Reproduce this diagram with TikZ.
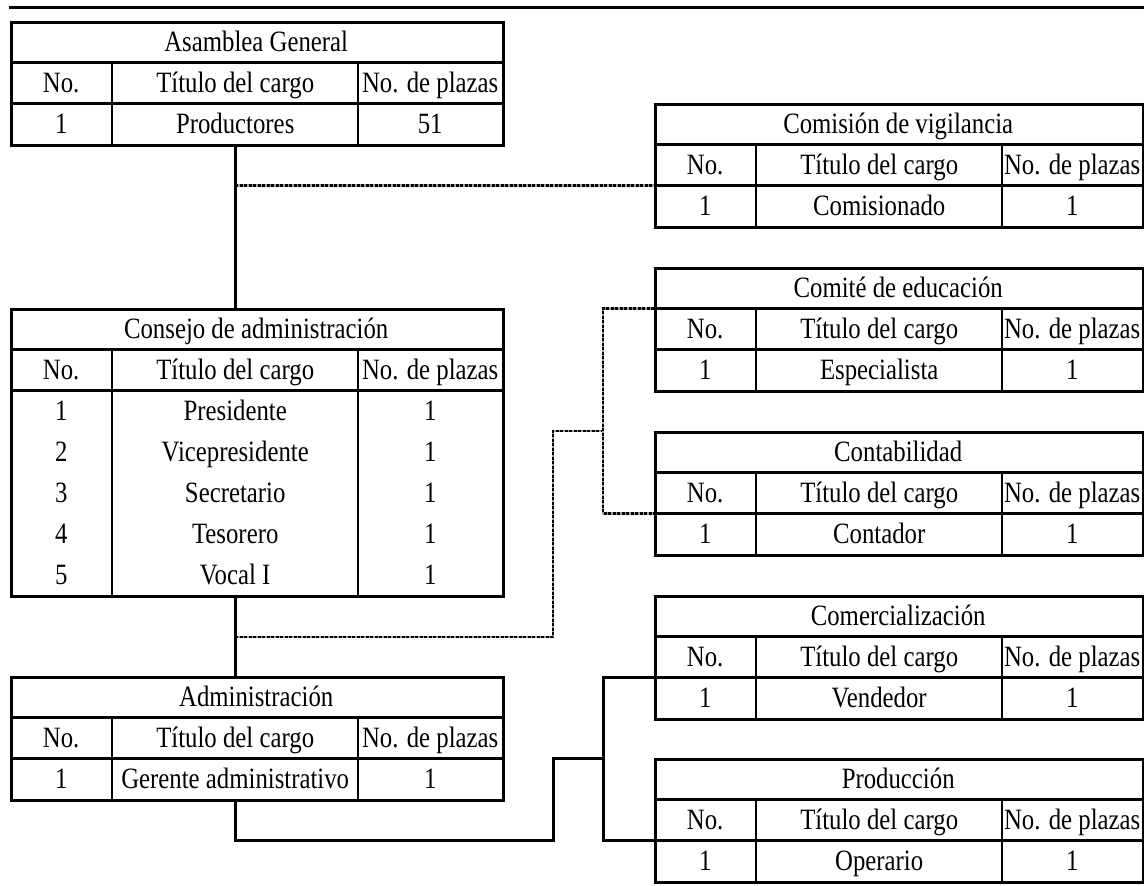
\documentclass[tikz,border=0pt]{standalone}
\usepackage{fontspec}
\setmainfont{Liberation Serif}[FakeStretch=0.84]
\usetikzlibrary{calc}

\tikzset{
  tframe/.style={draw, line width=3pt, inner sep=0pt},
  grid/.style={line width=2.6pt},
  cell/.style={inner sep=0pt, minimum height=41pt, text height=19.4pt,
    text depth=0pt, font=\fontsize{29.5}{34}\selectfont},
  conn/.style={line width=3pt},
  dconn/.style={line width=2.8pt, dash pattern=on 3pt off 1.5pt,
    preaction={draw=gray!75, solid, line width=2.8pt}},
}

% #1 name, #2 left x, #3 right x, #4 top y, #5 title,
% #6 number of data rows, #7 rows as number/cargo/plazas
\newcommand\orgtab[7]{%
  \pgfmathsetmacro\otCa{#2+102}%
  \pgfmathsetmacro\otCb{#2+348}%
  \pgfmathsetmacro\otRa{#4+41}%
  \pgfmathsetmacro\otRb{#4+82}%
  \pgfmathsetmacro\otW{#3-(#2)}%
  \pgfmathsetmacro\otH{82+41*#6}%
  \pgfmathsetmacro\otWc{#3-\otCb}%
  \node[cell, minimum width=\otW pt, anchor=north west] (#1-t) at (#2,#4) {#5};
  \node[cell, minimum width=102pt, anchor=north west] (#1-h1) at (#2,\otRa) {No.};
  \node[cell, minimum width=246pt, anchor=north west] (#1-h2) at (\otCa,\otRa) {Título del cargo};
  \node[cell, minimum width=\otWc pt, anchor=north west] (#1-h3) at (\otCb,\otRa) {No. de plazas};
  \foreach \va/\vb/\vc [count=\k] in {#7} {
    \pgfmathsetmacro\otRy{#4+82+41*(\k-1)}
    \node[cell, minimum width=102pt, anchor=north west] (#1-r\k-a) at (#2,\otRy) {\va};
    \node[cell, minimum width=246pt, anchor=north west] (#1-r\k-b) at (\otCa,\otRy) {\vb};
    \node[cell, minimum width=\otWc pt, anchor=north west] (#1-r\k-c) at (\otCb,\otRy) {\vc};
  }
  \node[tframe, minimum width=\otW pt, minimum height=\otH pt, anchor=north west] (#1) at (#2,#4) {};
  \draw[grid] (#1-t.south west) -- (#1-t.south east);
  \draw[grid] (#1-h1.south west) -- (#1-h1.south west -| #1.east);
  \draw[grid] (#1-h2.north west) -- (#1-h2.north west |- #1.south);
  \draw[grid] (#1-h3.north west) -- (#1-h3.north west |- #1.south);
}

\begin{document}
\begin{tikzpicture}[x=1pt, y=-1pt]
\useasboundingbox (0,0) rectangle (1144,886);

% rule across the top of the chart
\draw[line width=3pt] (9,7) -- (1144,7);

% left column
\orgtab{asamblea}{10}{502}{21}{Asamblea General}{1}{1/Productores/51}
\orgtab{consejo}{10}{502}{308}{Consejo de administración}{5}%
  {1/Presidente/1, 2/Vicepresidente/1, 3/Secretario/1, 4/Tesorero/1, 5/Vocal I/1}
\orgtab{admin}{10}{502}{676}{Administración}{1}{1/Gerente administrativo/1}

% right column
\orgtab{comision}{654}{1142}{103}{Comisión de vigilancia}{1}{1/Comisionado/1}
\orgtab{comite}{654}{1142}{267}{Comité de educación}{1}{1/Especialista/1}
\orgtab{contab}{654}{1142}{431}{Contabilidad}{1}{1/Contador/1}
\orgtab{comer}{654}{1142}{595}{Comercialización}{1}{1/Vendedor/1}
\orgtab{prod}{654}{1142}{758}{Producción}{1}{1/Operario/1}

% vertical bus lines between the two columns
\coordinate (busL) at (553,0);
\coordinate (busR) at (603,0);
\coordinate (midCA) at ($(consejo.south)!.5!(admin.north)$);

% line of authority
\draw[conn] (asamblea.south -| asamblea-h2) -- (consejo.north -| asamblea-h2);
\draw[conn] (consejo.south -| consejo-h2) -- (admin.north -| consejo-h2);

% advisory / staff links
\draw[dconn] (comision-h1.south west -| asamblea-h2) -- (comision-h1.south west);
\draw[dconn] (consejo-h2 |- midCA) -- (busL |- midCA) -- (busL |- contab.north)
  -- (busR |- contab.north);
\draw[dconn] (comite-t.south west) -- (busR |- comite-t.south west)
  -- (busR |- contab-h1.south west) -- (contab-h1.south west);

% operating departments
\draw[conn] (admin.south -| admin-h2) -- (admin-h2 |- prod-h1.south)
  -- (busL |- prod-h1.south) -- (busL |- prod.north) -- (busR |- prod.north);
\draw[conn] (comer-h1.south west) -- (busR |- comer-h1.south west)
  -- (busR |- prod-h1.south west) -- (prod-h1.south west);
\end{tikzpicture}
\end{document}
